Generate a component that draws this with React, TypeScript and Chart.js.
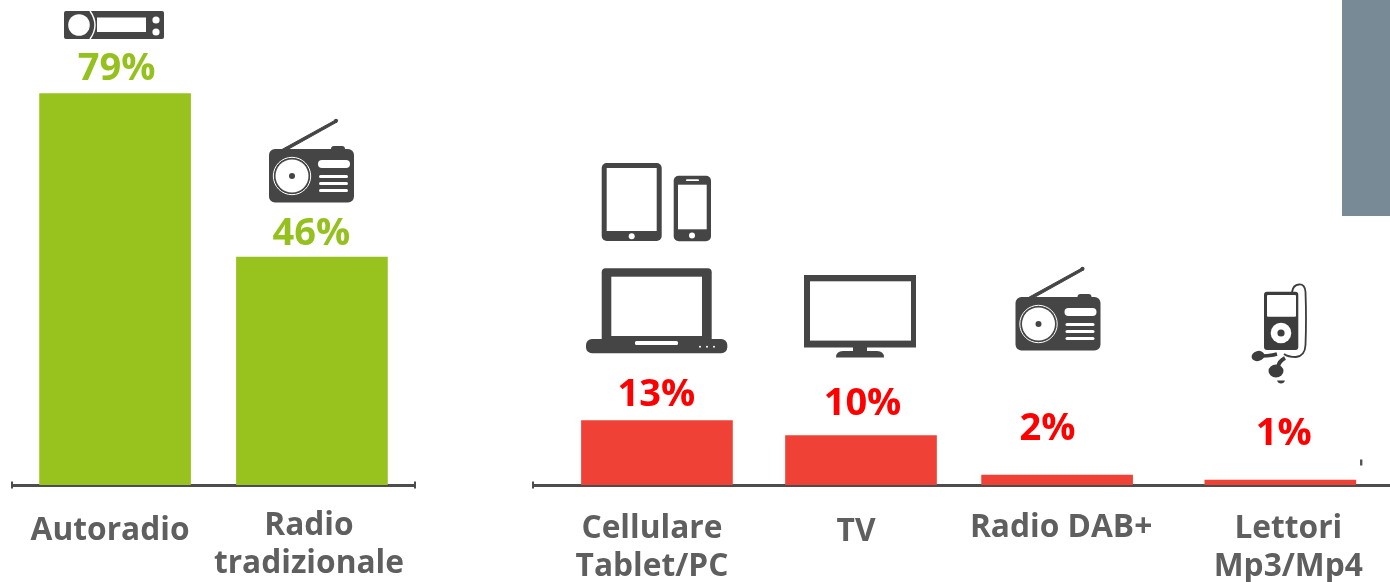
import React, { useEffect, useRef } from "react";
import { Chart, registerables } from "chart.js";

Chart.register(...registerables);

// ---- data ----
const mainCategories = [["Autoradio"], ["Radio", "tradizionale"]];
const mainValues = [79, 46];
const otherCategories = [["Cellulare", "Tablet/PC"], ["TV"], ["Radio DAB+"], ["Lettori", "Mp3/Mp4"]];
const otherValues = [13, 10, 2, 1];

// ---- layout (in axis units and label offsets, not data) ----
const mainSlots = [0.5115, 1.4885];
const mainSlotMax = 2;
const otherSlots = [0.6075, 1.6075, 2.5685, 3.6625];
const otherSlotMax = 4.2;
const mainValueNudge = [[1.5, 24], [-0.5, 22.5]];
const otherValueNudge = [[-0.5, 25.5], [1.5, 31], [-9.5, 46], [3.5, 45.5]];
const mainLabelNudge = [[-5, 531], [-3, 525.5]];
const otherLabelNudge = [[-5, 528.5], [-5, 532], [4, 527.5], [8, 528.5]];
const LINE_HEIGHT = 38;
const Y_MAX = 97.9;

const GREEN = "#98c21d";
const GREEN_TEXT = "#95c11f";
const BAR_RED = "#ef4136";
const TEXT_RED = "#ff0000";
const AXIS = "#4d4d4d";
const CAT = "#5f5f5f";
const ICON = "#454545";

const FONT = '"Open Sans"';

function makeLabelPlugin(
  values: number[],
  cats: string[][],
  valueNudge: number[][],
  labelNudge: number[][],
  textColor: string,
  caps: ("l" | "r")[]
) {
  return {
    id: "valueAndCategoryLabels",
    afterDatasetsDraw(chart: any) {
      const { ctx } = chart;
      const meta = chart.getDatasetMeta(0);
      const xs = chart.scales.x;
      const bottom = chart.chartArea.bottom;
      ctx.save();
      ctx.fillStyle = AXIS;
      if (caps.includes("l")) ctx.fillRect(xs.left - 1, bottom - 3.5, 2, 7);
      if (caps.includes("r")) ctx.fillRect(xs.right - 1, bottom - 3.5, 2, 7);
      ctx.textAlign = "center";
      ctx.textBaseline = "middle";
      values.forEach((v, i) => {
        const el = meta.data[i];
        ctx.font = `bold 38px ${FONT}`;
        ctx.fillStyle = textColor;
        ctx.fillText(`${v}%`, el.x + valueNudge[i][0], el.y - valueNudge[i][1]);
        ctx.font = `bold 31.7px ${FONT}`;
        ctx.fillStyle = CAT;
        cats[i].forEach((line, j) => {
          ctx.fillText(line, el.x + labelNudge[i][0], labelNudge[i][1] + j * LINE_HEIGHT);
        });
      });
      ctx.restore();
    },
  };
}

function makeConfig(
  slots: number[],
  values: number[],
  slotMax: number,
  color: string,
  padding: any,
  plugin: any
): any {
  return {
    type: "bar",
    data: {
      datasets: [
        {
          data: slots.map((x, i) => ({ x, y: values[i] })),
          backgroundColor: color,
          barThickness: 151,
          borderWidth: 0,
        },
      ],
    },
    options: {
      animation: false,
      responsive: false,
      maintainAspectRatio: false,
      layout: { padding },
      plugins: { legend: { display: false }, tooltip: { enabled: false }, title: { display: false } },
      scales: {
        x: {
          type: "linear",
          offset: false,
          min: 0,
          max: slotMax,
          ticks: { display: false },
          grid: { display: true, offset: false, drawOnChartArea: false, drawTicks: false },
          border: { display: true, color: AXIS, width: 3 },
        },
        y: {
          type: "linear",
          min: 0,
          max: Y_MAX,
          display: false,
          grid: { display: false },
        },
      },
    },
    plugins: [plugin],
  };
}

function RadioIcon({ dx, dy }: { dx: number; dy: number }) {
  return (
    <g transform={`translate(${dx} ${dy})`}>
      <path d="M281 150 L285 151 L337 122 L335.5 120 Z" fill={ICON} stroke={ICON} strokeWidth={1} />
      <circle cx={336} cy={120.8} r={2.1} fill={ICON} />
      <rect x={331} y={146} width={14} height={8} rx={3} fill={ICON} />
      <rect x={269} y={149} width={85} height={53.5} rx={6} fill={ICON} />
      <circle cx={292} cy={176} r={18.7} fill="none" stroke="#fff" strokeWidth={1} />
      <circle cx={292} cy={176} r={16.5} fill="#fff" />
      <circle cx={292} cy={176} r={3} fill={ICON} />
      <rect x={318} y={160} width={32} height={8} rx={4} fill="#fff" />
      <rect x={319} y={175} width={29} height={3} rx={1.5} fill="#fff" />
      <rect x={319} y={182} width={29} height={3} rx={1.5} fill="#fff" />
      <rect x={319} y={189} width={29} height={3} rx={1.5} fill="#fff" />
    </g>
  );
}

function Icons() {
  return (
    <svg
      width={1390}
      height={582}
      style={{ position: "absolute", left: 0, top: 0, pointerEvents: "none" }}
    >
      {/* car radio */}
      <rect x={64} y={11} width={100} height={28} rx={2} fill={ICON} />
      <circle cx={79} cy={25} r={10.8} fill="#fff" />
      <path d="M90 11 Q100 25 90 39" fill="none" stroke="#fff" strokeWidth={1.4} />
      <rect x={97} y={17.5} width={49} height={14.5} fill="#fff" />
      <circle cx={156} cy={20} r={3.6} fill="#fff" />
      <circle cx={156} cy={32} r={3.6} fill="#fff" />

      <RadioIcon dx={0} dy={0} />
      <RadioIcon dx={746.5} dy={148} />

      {/* tablet */}
      <rect x={601.7} y={163} width={60} height={78} rx={5} fill={ICON} />
      <rect x={606.7} y={168} width={50} height={63} fill="#fff" />
      <circle cx={631.7} cy={236.3} r={3} fill="#fff" />
      {/* phone */}
      <rect x={673.7} y={175.7} width={37.3} height={65.6} rx={5} fill={ICON} />
      <rect x={678} y={184.7} width={28.7} height={44.6} fill="#fff" />
      <rect x={686} y={179.3} width={13} height={1.8} rx={0.9} fill="#fff" />
      <circle cx={692} cy={235.4} r={3} fill="#fff" />
      {/* laptop */}
      <rect x={601.7} y={268.3} width={110} height={75} rx={4} fill={ICON} />
      <rect x={611.3} y={276.7} width={90.7} height={59.3} fill="#fff" />
      <rect x={586} y={339} width={141.3} height={14.3} rx={6} fill={ICON} />
      <rect x={635} y={341} width={43} height={4} rx={1.5} fill="#fff" />
      <circle cx={700} cy={346.7} r={1} fill="#fff" />
      <circle cx={707} cy={346.7} r={1} fill="#fff" />
      <circle cx={714} cy={346.7} r={1} fill="#fff" />
      {/* television */}
      <rect x={804} y={275} width={112} height={72.5} fill={ICON} />
      <rect x={810} y={281.3} width={101} height={59.3} fill="#fff" />
      <rect x={853} y={347} width={14} height={5} fill={ICON} />
      <path d="M836 357.5 Q836 351 843 351 H877 Q884 351 884 357.5 Z" fill={ICON} />
      {/* mp3 player */}
      <path
        d="M1292 292 Q1293 285 1299 284.5 Q1305 284 1305.5 292 Q1306.5 320 1305.5 345 Q1305 356 1296 357 Q1288 357 1284 354"
        fill="none"
        stroke="#3d3d3d"
        strokeWidth={1.8}
      />
      <rect x={1264} y={291.7} width={34.3} height={58.3} rx={3} fill="#3d3d3d" />
      <rect x={1267} y={295} width={29} height={21.7} rx={1} fill="#fff" />
      <circle cx={1281} cy={333} r={10.3} fill="#fff" />
      <circle cx={1281} cy={333} r={3.6} fill="#3d3d3d" />
      <ellipse cx={1258} cy={356} rx={6.5} ry={5} fill="#3d3d3d" transform="rotate(-15 1258 356)" />
      <path d="M1262 356 Q1270 356 1277 354" fill="none" stroke="#3d3d3d" strokeWidth={3.5} />
      <path d="M1285 358 Q1279 361 1278 367" fill="none" stroke="#3d3d3d" strokeWidth={4} />
      <ellipse cx={1276} cy={371} rx={7.5} ry={6.5} fill="#3d3d3d" />
      <path d="M1277 380.5 H1285 Q1284 383.5 1281 383.5 Q1278 383.5 1277 380.5 Z" fill="#3d3d3d" />
      {/* stray mark */}
      <rect x={1360} y={459.5} width={2.4} height={6} fill="#555" />
    </svg>
  );
}

export default function App() {
  const leftRef = useRef<HTMLCanvasElement>(null);
  const rightRef = useRef<HTMLCanvasElement>(null);

  useEffect(() => {
    const left = new Chart(
      leftRef.current as HTMLCanvasElement,
      makeConfig(
        mainSlots,
        mainValues,
        mainSlotMax,
        GREEN,
        { left: 12, right: 55, top: 0, bottom: 97 },
        makeLabelPlugin(mainValues, mainCategories, mainValueNudge, mainLabelNudge, GREEN_TEXT, ["l", "r"])
      )
    );
    const right = new Chart(
      rightRef.current as HTMLCanvasElement,
      makeConfig(
        otherSlots,
        otherValues,
        otherSlotMax,
        BAR_RED,
        { left: 33, right: 0, top: 0, bottom: 97 },
        makeLabelPlugin(otherValues, otherCategories, otherValueNudge, otherLabelNudge, TEXT_RED, ["l"])
      )
    );
    return () => {
      left.destroy();
      right.destroy();
    };
  }, []);

  return (
    <div style={{ position: "fixed", left: 0, top: 0, width: 1390, height: 582, overflow: "hidden", background: "#fff" }}>
      <canvas ref={leftRef} width={470} height={582} style={{ position: "absolute", left: 0, top: 0, width: 470, height: 582 }} />
      <canvas ref={rightRef} width={890} height={582} style={{ position: "absolute", left: 500, top: 0, width: 890, height: 582 }} />
      <div style={{ position: "absolute", left: 1342, top: 0, width: 48, height: 216, background: "#788a96" }} />
      <Icons />
    </div>
  );
}
